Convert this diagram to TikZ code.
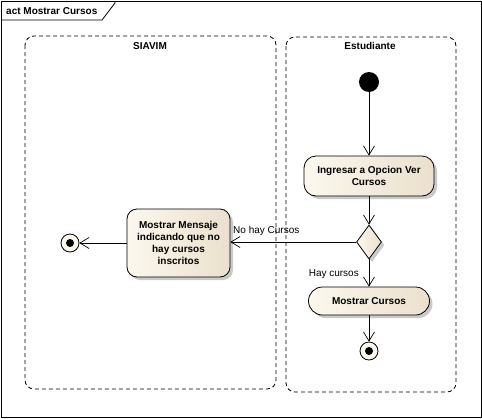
\documentclass[tikz,border=0pt]{standalone}
\usepackage{fontspec}
\setmainfont{Liberation Sans}
\usetikzlibrary{arrows.meta,shapes.geometric,shadows}
\definecolor{actlight}{RGB}{252,248,238}
\definecolor{actdark}{RGB}{234,224,204}
\begin{document}
\begin{tikzpicture}[x=1pt,y=-1pt,
  font=\fontsize{10}{12}\selectfont,
  flow/.style={draw, line width=0.7pt, -{Straight Barb[length=9pt,width=11pt,line width=0.7pt]}},
  partbox/.style={draw, line width=0.8pt, dash pattern=on 4pt off 3pt, rounded corners=9pt},
  actbox/.style={draw, line width=0.8pt, left color=actlight, right color=actdark, align=center,
    font=\fontsize{10}{12}\selectfont\bfseries, inner sep=2pt,
    drop shadow={shadow xshift=3pt, shadow yshift=-3pt, opacity=0.35, fill=black!60}},
  initnode/.style={circle, fill=black, minimum size=20pt, inner sep=0pt},
  finalnode/.style={circle, draw, line width=0.8pt, fill=actlight, minimum size=18pt, inner sep=0pt,
    path picture={\fill[black] (path picture bounding box.center) circle (4pt);}},
  lbl/.style={font=\fontsize{10}{12}\selectfont, inner sep=0pt}
]
\useasboundingbox (0,0) rectangle (482,418);
% frame
\draw[line width=1pt] (1,1) rectangle (481,417);
\draw[line width=0.8pt] (1,20) -- (102,20) -- (115,3) -- (115,1);
\node[lbl, font=\fontsize{10}{12}\selectfont\bfseries, anchor=west] (title) at (6,11) {act Mostrar Cursos};
% partitions
\draw[partbox] (25,36) rectangle (276,389);
\draw[partbox] (286,37) rectangle (456,392);
\node[lbl, font=\fontsize{10}{12}\selectfont\bfseries] (siavim) at (150,46) {SIAVIM};
\node[lbl, font=\fontsize{10}{12}\selectfont\bfseries] (estud) at (370,46) {Estudiante};
% nodes
\node[initnode] (start) at (369,82) {};
\node[actbox, rounded corners=12pt, minimum width=130pt, minimum height=40pt] (ingresar) at (369,176) {Ingresar a Opcion Ver\\Cursos};
\node[diamond, draw, line width=0.8pt, left color=actlight, right color=actdark, minimum width=25pt, minimum height=34pt, inner sep=0pt,
  drop shadow={shadow xshift=3pt, shadow yshift=-3pt, opacity=0.35, fill=black!60}] (dec) at (369,242) {};
\node[actbox, rounded corners=10pt, minimum width=103pt, minimum height=68pt] (mensaje) at (178.5,243) {Mostrar Mensaje\\indicando que no\\hay cursos\\inscritos};
\node[actbox, rounded corners=14pt, minimum width=121pt, minimum height=28pt] (cursos) at (369,301) {Mostrar Cursos};
\node[finalnode] (endl) at (70,243) {};
\node[finalnode] (endb) at (369,351) {};
% edges
\draw[flow] (start) -- (ingresar);
\draw[flow] (ingresar) -- (dec);
\draw[flow] (dec.west) -- (mensaje.east |- dec.west);
\draw[flow] (mensaje.west |- endl) -- (endl);
\draw[flow] (dec.south) -- (cursos.north);
\draw[flow] (cursos) -- (endb);
% labels
\node[lbl, anchor=west] (lno) at (233,231) {No hay Cursos};
\node[lbl, anchor=east] (lsi) at (359,274) {Hay cursos};
\end{tikzpicture}
\end{document}
